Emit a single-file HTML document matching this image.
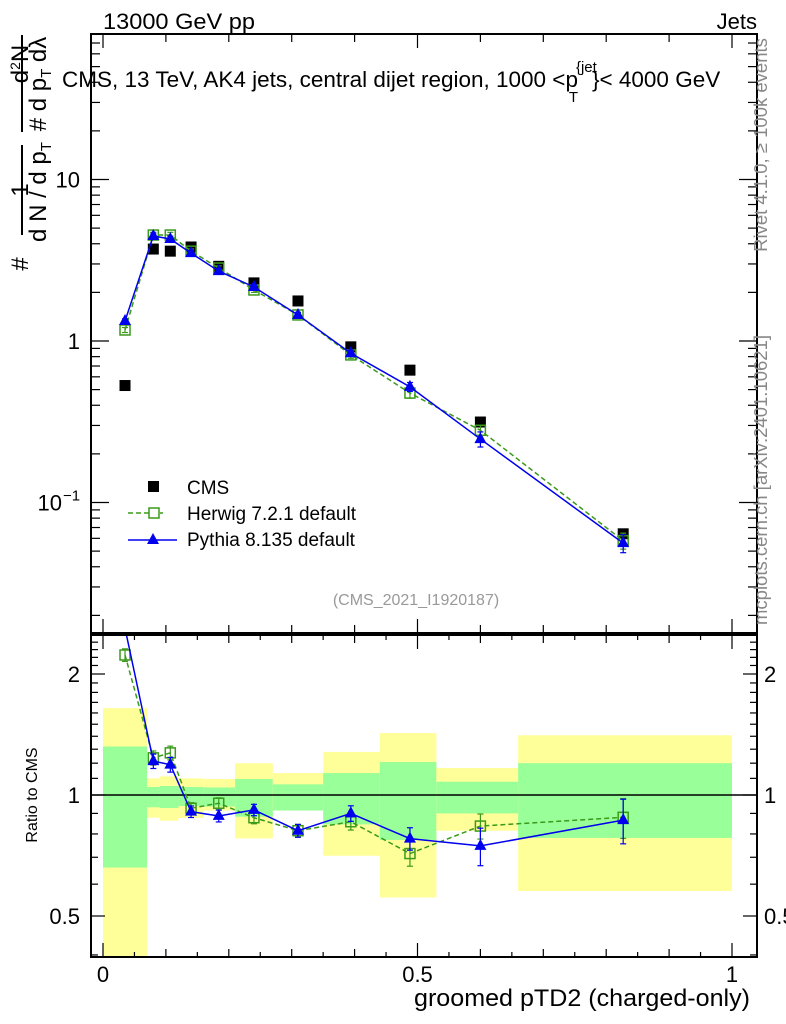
<!DOCTYPE html>
<html><head><meta charset="utf-8"><style>
html,body{margin:0;padding:0;background:#fff;}
svg{display:block;font-family:"Liberation Sans",sans-serif;}
</style></head><body>
<svg id="chart" width="786" height="1024" viewBox="0 0 786 1024" xmlns="http://www.w3.org/2000/svg">
<g id="bands"></g>
<g id="marks"></g>
<g id="axes"></g>
<text x="103" y="29" font-size="22" textLength="152" lengthAdjust="spacingAndGlyphs">13000 GeV pp</text>
<text x="757" y="29" font-size="22" text-anchor="end">Jets</text>
<text x="62" y="87" font-size="22.5">CMS, 13 TeV, AK4 jets, central dijet region, 1000 &lt;p<tspan font-size="15" dx="-2" dy="-15">{jet</tspan><tspan font-size="15" dx="-28" dy="30">T</tspan><tspan dx="14" dy="-15">}&lt; 4000 GeV</tspan></text>
<text x="416" y="605" font-size="16" fill="#999" text-anchor="middle">(CMS_2021_I1920187)</text>
<text transform="translate(767,145) rotate(-90)" font-size="18.5" fill="#888" text-anchor="middle">Rivet 4.1.0, ≥ 100k events</text>
<text transform="translate(767,480) rotate(-90)" font-size="18.5" fill="#888" text-anchor="middle">mcplots.cern.ch [arXiv:2401.10621]</text>
<g font-size="24">
<text transform="translate(28,190) rotate(-90)" text-anchor="middle">1</text>
<line x1="22" y1="145" x2="22" y2="235" stroke="#000" stroke-width="2"/>
<text transform="translate(46,192) rotate(-90)" text-anchor="middle">d N / d p<tspan font-size="15" dy="5">T</tspan></text>
<text transform="translate(28,264) rotate(-90)" text-anchor="middle">#</text>
<text transform="translate(28,64) rotate(-90)" text-anchor="middle">d<tspan font-size="14" dy="-8">2</tspan><tspan dy="8">N</tspan></text>
<line x1="22" y1="35" x2="22" y2="132" stroke="#000" stroke-width="2"/>
<text transform="translate(46,84) rotate(-90)" text-anchor="middle"># d p<tspan font-size="15" dy="5">T</tspan><tspan dy="-5"> dλ</tspan></text>
</g>
<text transform="translate(37,795) rotate(-90)" font-size="16" text-anchor="middle">Ratio to CMS</text>
<text x="750" y="1006" font-size="24" text-anchor="end" textLength="336" lengthAdjust="spacingAndGlyphs">groomed pTD2 (charged-only)</text>
<g font-size="19">
<rect x="148" y="481" width="11" height="11" fill="#000"/>
<text x="187" y="494">CMS</text>
<line x1="128" y1="513" x2="163" y2="513" stroke="#3a9a1a" stroke-width="1.5" stroke-dasharray="5,3"/>
<rect x="149" y="508" width="10" height="10" fill="#fff" stroke="#3a9a1a" stroke-width="1.5"/>
<text x="187" y="520">Herwig 7.2.1 default</text>
<line x1="128" y1="540" x2="177" y2="540" stroke="#0000ee" stroke-width="1.5"/>
<polygon points="153,533 159,544 147,544" fill="#0000ee"/>
<text x="187" y="546">Pythia 8.135 default</text>
</g>
</svg>
<script>
const xVals=[0.035,0.08,0.107,0.14,0.184,0.24,0.31,0.394,0.488,0.6,0.827];
const binEdges=[0,0.07,0.09,0.12,0.16,0.21,0.27,0.35,0.44,0.53,0.66,1.0];
const cmsVals=[0.53,3.71,3.6,3.82,2.9,2.29,1.77,0.92,0.66,0.315,0.064];
const herwigVals=[1.17,4.53,4.53,3.6,2.83,2.07,1.45,0.82,0.476,0.28,0.058];
const pythiaVals=[1.33,4.47,4.28,3.5,2.71,2.16,1.45,0.84,0.52,0.247,0.056];
const herwigRatio=[2.23,1.237,1.273,0.927,0.954,0.878,0.815,0.858,0.715,0.837,0.88];
const pythiaRatio=[2.6,1.214,1.19,0.909,0.887,0.918,0.815,0.90,0.779,0.747,0.866];
const herwigRatioErr=[0.08,0.05,0.05,0.03,0.03,0.03,0.03,0.04,0.05,0.06,0.1];
const pythiaRatioErr=[0.08,0.05,0.05,0.03,0.03,0.03,0.03,0.04,0.05,0.08,0.11];
const greenHi=[1.32,1.047,1.053,1.047,1.044,1.096,1.063,1.134,1.208,1.079,1.2];
const greenLo=[0.66,0.932,0.928,0.939,0.936,0.883,0.915,0.845,0.773,0.90,0.782];
const yellowHi=[1.645,1.10,1.113,1.10,1.096,1.20,1.134,1.28,1.426,1.167,1.408];
const yellowLo=[0.30,0.878,0.863,0.877,0.915,0.78,0.915,0.706,0.556,0.815,0.577];
const yTicks=[10,1,0.1];
const ratioTicks=[2,1,0.5];
const xTicks=[0,0.5,1];

const NS="http://www.w3.org/2000/svg";
const L=91,R=757,T1=34,B1=633,T2=635,B2=957;
const X=v=>103+629*v;
const Y=v=>341-161.5*Math.log10(v);
const RY=r=>795-121*Math.log2(r);
const clampR=y=>Math.max(T2,Math.min(B2,y));
function mk(tag,attrs,parent){const e=document.createElementNS(NS,tag);for(const k in attrs)e.setAttribute(k,attrs[k]);parent.appendChild(e);return e;}
const bandsG=document.getElementById('bands'),marksG=document.getElementById('marks'),axesG=document.getElementById('axes');

for(let i=0;i<binEdges.length-1;i++){
  const x1=X(binEdges[i]),x2=X(binEdges[i+1]);
  const y1=clampR(RY(yellowHi[i])),y2=clampR(RY(yellowLo[i]));
  const yb=mk('rect',{x:x1,y:y1,width:x2-x1,height:y2-y1,fill:'#ffff99'},bandsG);
  
  
  const g1=clampR(RY(greenHi[i])),g2=clampR(RY(greenLo[i]));
  const gb=mk('rect',{x:x1,y:g1,width:x2-x1,height:g2-g1,fill:'#99ff99'},bandsG);
  
  
}
mk('line',{x1:L,y1:RY(1),x2:R,y2:RY(1),stroke:'#000','stroke-width':1.5},bandsG);

const defs=mk('defs',{},marksG);
const c1=mk('clipPath',{id:'c1'},defs);mk('rect',{x:L,y:T1,width:R-L,height:B1-T1},c1);
const c2=mk('clipPath',{id:'c2'},defs);mk('rect',{x:L,y:T2,width:R-L,height:B2-T2},c2);
const topG=mk('g',{'clip-path':'url(#c1)'},marksG);
const botG=mk('g',{'clip-path':'url(#c2)'},marksG);

function series(g,vals,yf,errLo,errHi,color,dash,shape,name){
  const pts=vals.map((v,i)=>X(xVals[i])+','+yf(v)).join(' ');
  const pl=mk('polyline',{points:pts,fill:'none',stroke:color,'stroke-width':1.5},g);
  if(dash)pl.setAttribute('stroke-dasharray',dash);
  
  
  vals.forEach((v,i)=>{
    const x=X(xVals[i]),y=yf(v);
    const ya=errHi(i),yb=errLo(i);
    mk('line',{x1:x,y1:ya,x2:x,y2:yb,stroke:color,'stroke-width':1.2},g);
    mk('line',{x1:x-3,y1:ya,x2:x+3,y2:ya,stroke:color,'stroke-width':1.2},g);
    mk('line',{x1:x-3,y1:yb,x2:x+3,y2:yb,stroke:color,'stroke-width':1.2},g);
    let m;
    if(shape==='sq'){m=mk('rect',{x:x-5,y:y-5,width:10,height:10,fill:'none',stroke:color,'stroke-width':1.5},g);}
    else {m=mk('polygon',{points:`${x},${y-7} ${x+6},${y+4} ${x-6},${y+4}`,fill:color},g);}
    
    
  });
}
cmsVals.forEach((v,i)=>{
  const r=mk('rect',{x:X(xVals[i])-5.5,y:Y(v)-5.5,width:11,height:11,fill:'#000'},topG);
  
  
});
series(topG,herwigVals,v=>Y(v),i=>Y(herwigVals[i]*(1-herwigRatioErr[i]/herwigRatio[i])),i=>Y(herwigVals[i]*(1+herwigRatioErr[i]/herwigRatio[i])),'#3a9a1a','5,3','sq','herwig');
series(topG,pythiaVals,v=>Y(v),i=>Y(pythiaVals[i]*(1-pythiaRatioErr[i]/pythiaRatio[i])),i=>Y(pythiaVals[i]*(1+pythiaRatioErr[i]/pythiaRatio[i])),'#0000ee',null,'tri','pythia');
series(botG,herwigRatio,v=>RY(v),i=>RY(herwigRatio[i]-herwigRatioErr[i]),i=>RY(herwigRatio[i]+herwigRatioErr[i]),'#3a9a1a','5,3','sq','herwig-ratio');
series(botG,pythiaRatio,v=>RY(v),i=>RY(pythiaRatio[i]-pythiaRatioErr[i]),i=>RY(pythiaRatio[i]+pythiaRatioErr[i]),'#0000ee',null,'tri','pythia-ratio');

[[T1,B1],[T2,B2]].forEach(([t,b])=>{
  const f=mk('rect',{x:L,y:t,width:R-L,height:b-t,fill:'none',stroke:'#000','stroke-width':2},axesG);
  
  
  for(let k=0;k<=20;k++){const v=k*0.05;const x=X(v);if(x<L||x>R)continue;
    const len=(k%10===0)?14:(k%2===0?8:(b===B2?5:0));
    if(!len)continue;
    mk('line',{x1:x,y1:b,x2:x,y2:b-len,stroke:'#000','stroke-width':1.2},axesG);
    mk('line',{x1:x,y1:t,x2:x,y2:t+len,stroke:'#000','stroke-width':1.2},axesG);}
});
for(let d=-2;d<=1;d++)for(let m=1;m<10;m++){const v=m*Math.pow(10,d);const y=Y(v);if(y<T1||y>B1)continue;
  const len=m===1?18:9;
  mk('line',{x1:L,y1:y,x2:L+len,y2:y,stroke:'#000','stroke-width':1.2},axesG);
  mk('line',{x1:R,y1:y,x2:R-len,y2:y,stroke:'#000','stroke-width':1.2},axesG);}
for(let k=4;k<=25;k++){const v=k/10;const y=RY(v);if(y<T2||y>B2)continue;
  const len=(v===0.5||v===1||v===2)?14:7;
  mk('line',{x1:L,y1:y,x2:L+len,y2:y,stroke:'#000','stroke-width':1.2},axesG);
  mk('line',{x1:R,y1:y,x2:R-len,y2:y,stroke:'#000','stroke-width':1.2},axesG);}
yTicks.forEach(v=>{
  const y=Y(v);
  if(v===0.1){const t=mk('text',{x:62,y:y+8,'font-size':22,'text-anchor':'end'},axesG);t.textContent='10';
    
    
    const s=mk('text',{x:63,y:y-2,'font-size':15},axesG);s.textContent='−1';}
  else{const t=mk('text',{x:80,y:y+8,'font-size':22,'text-anchor':'end'},axesG);t.textContent=String(v);
    
    }
});
ratioTicks.forEach(v=>{
  const y=RY(v);
  const t=mk('text',{x:80,y:y+8,'font-size':22,'text-anchor':'end'},axesG);t.textContent=String(v);
  
  
  const t2=mk('text',{x:764,y:y+8,'font-size':22},axesG);t2.textContent=String(v);
  
  
});
xTicks.forEach(v=>{
  const t=mk('text',{x:X(v),y:982,'font-size':22,'text-anchor':'middle'},axesG);t.textContent=String(v);
  
  
});
</script>
</body></html>
